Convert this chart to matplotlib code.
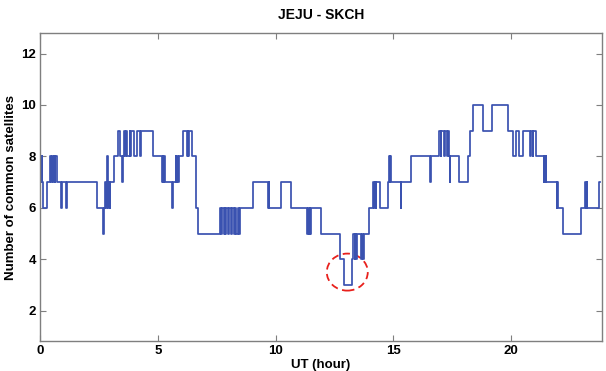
import numpy as np
import matplotlib.pyplot as plt
from matplotlib.patches import Ellipse

plt.rcParams['font.family'] = ['Liberation Sans', 'DejaVu Sans']

# Change times (UT hour) and number of common satellites held from each time
ut_hour = [0.00, 0.04, 0.07, 0.10, 0.13, 0.29, 0.42, 0.47, 0.50, 0.55, 0.58, 0.62, 0.64, 0.74,
           0.88, 0.92, 1.12, 1.15, 2.44, 2.68, 2.72, 2.76, 2.79, 2.83, 2.86, 2.89, 2.92, 2.95,
           2.98, 3.15, 3.33, 3.40, 3.47, 3.51, 3.55, 3.62, 3.64, 3.70, 3.81, 3.84, 3.86, 3.98,
           4.12, 4.24, 4.30, 4.80, 5.18, 5.20, 5.24, 5.26, 5.30, 5.62, 5.66, 5.76, 5.79, 5.82,
           5.85, 5.88, 6.05, 6.22, 6.26, 6.30, 6.33, 6.47, 6.64, 6.69, 7.63, 7.70, 7.73, 7.80,
           7.83, 7.86, 7.90, 7.98, 8.02, 8.10, 8.15, 8.22, 8.26, 8.33, 8.40, 8.45, 8.48, 9.02,
           9.68, 9.70, 9.72, 10.22, 10.67, 11.32, 11.36, 11.40, 11.44, 11.47, 11.50, 11.92,
           12.73, 12.89, 13.22, 13.28, 13.35, 13.38, 13.42, 13.46, 13.62, 13.66, 13.70, 13.74,
           13.97, 14.14, 14.17, 14.20, 14.24, 14.27, 14.43, 14.78, 14.81, 14.84, 14.87, 14.90,
           15.30, 15.34, 15.73, 16.57, 16.60, 16.94, 17.00, 17.03, 17.14, 17.17, 17.29, 17.31,
           17.35, 17.38, 17.41, 17.80, 18.16, 18.25, 18.38, 18.78, 19.18, 19.87, 20.08, 20.19,
           20.34, 20.50, 20.78, 20.84, 20.91, 20.94, 21.07, 21.38, 21.40, 21.43, 21.46, 21.49,
           21.92, 21.94, 21.97, 22.20, 22.98, 23.12, 23.15, 23.20, 23.22, 23.72]
n_common = [8, 7, 8, 7, 6, 7, 8, 7, 8, 7, 8, 7, 8, 7,
            6, 7, 6, 7, 6, 5, 6, 7, 6, 7, 8, 6, 7, 6,
            7, 8, 9, 8, 7, 8, 9, 8, 9, 8, 9, 8, 9, 8,
            9, 8, 9, 8, 7, 8, 7, 8, 7, 6, 7, 8, 7, 8,
            7, 8, 9, 8, 9, 8, 9, 8, 6, 5, 6, 5, 6, 5,
            6, 5, 6, 5, 6, 5, 6, 5, 6, 5, 6, 5, 6, 7,
            6, 7, 6, 7, 6, 5, 6, 5, 6, 5, 6, 5,
            4, 3, 4, 5, 4, 5, 4, 5, 4, 5, 4, 5,
            6, 7, 6, 7, 6, 7, 6, 7, 8, 7, 8, 7,
            6, 7, 8, 7, 8, 9, 8, 9, 8, 9, 8, 9,
            8, 7, 8, 7, 8, 9, 10, 9, 10, 9, 8, 9,
            8, 9, 8, 9, 8, 9, 8, 7, 8, 7, 8, 7,
            6, 7, 6, 5, 6, 7, 6, 7, 6, 7]
ut_end = 23.78

t = np.append(ut_hour, ut_end)
n = np.append(n_common, n_common[-1])

fig = plt.figure(figsize=(6.06, 3.71), dpi=100)
ax = fig.add_axes([40 / 606, 1 - 341 / 371, 562 / 606, 308 / 371])

ax.step(t, n, where='post', color='#3a52b0', lw=1.25)

# highlight the drop to three satellites
ax.add_patch(Ellipse((13.04, 3.5), 1.74, 1.44, fill=False, ec='#e8201c',
                     ls=(0, (4, 2.5)), lw=1.3))

ax.set_xlim(0, 23.85)
ax.set_ylim(0.82, 12.8)
ax.set_xticks([0, 5, 10, 15, 20])
ax.set_yticks([2, 4, 6, 8, 10, 12])

for s in ax.spines.values():
    s.set_color('#7f7f7f')
    s.set_linewidth(1.0)
ax.tick_params(direction='in', length=4, width=0.8, color='#7f7f7f',
               top=True, right=True, labelsize=9.5, pad=3)
for lab in ax.get_xticklabels() + ax.get_yticklabels():
    lab.set_fontweight('bold')

ax.set_title('JEJU - SKCH', fontsize=10, fontweight='bold', pad=10)
ax.set_xlabel('UT (hour)', fontsize=9.5, fontweight='bold', labelpad=1)
ax.set_ylabel('Number of common satellites', fontsize=9.5, fontweight='bold', labelpad=3)

fig.savefig('out.png', dpi=100)
